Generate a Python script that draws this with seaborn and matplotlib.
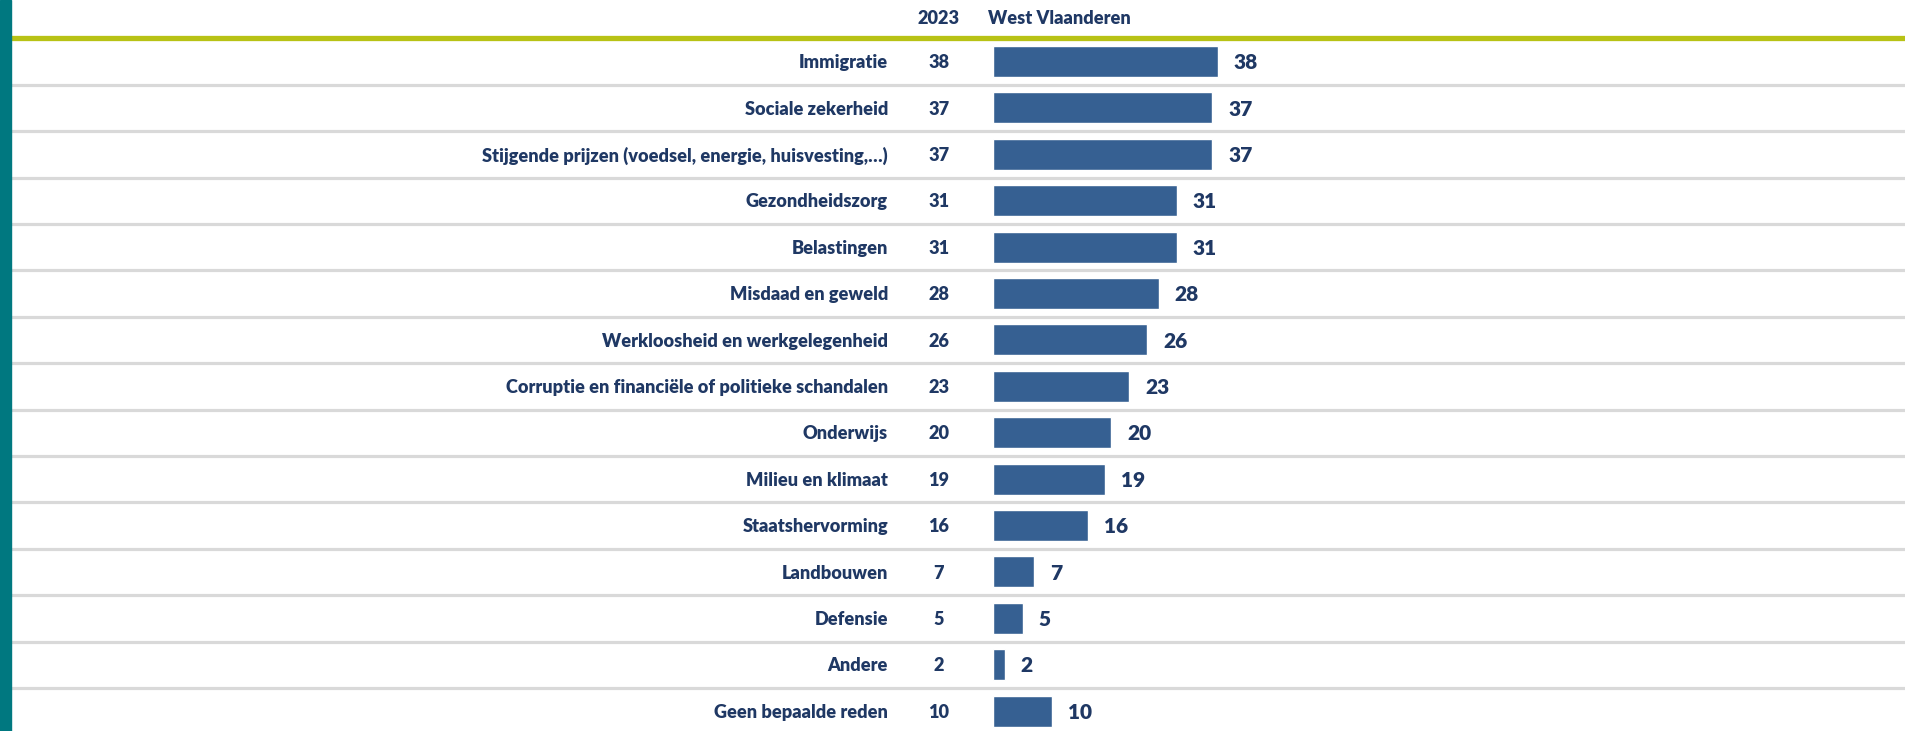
import numpy as np
import pandas as pd
import matplotlib
matplotlib.use("Agg")
import matplotlib.pyplot as plt
import seaborn as sns

categories = [
    "Immigratie",
    "Sociale zekerheid",
    "Stijgende prijzen (voedsel, energie, huisvesting,…)",
    "Gezondheidszorg",
    "Belastingen",
    "Misdaad en geweld",
    "Werkloosheid en werkgelegenheid",
    "Corruptie en financiële of politieke schandalen",
    "Onderwijs",
    "Milieu en klimaat",
    "Staatshervorming",
    "Landbouwen",
    "Defensie",
    "Andere",
    "Geen bepaalde reden",
]
values_2023 = [38, 37, 37, 31, 31, 28, 26, 23, 20, 19, 16, 7, 5, 2, 10]
values_wvl = [38, 37, 37, 31, 31, 28, 26, 23, 20, 19, 16, 7, 5, 2, 10]

col_header_year = "2023"
col_header_region = "West Vlaanderen"

BAR = "#366092"
TEXT = "#1F3864"
OLIVE = "#B8C215"
TEAL = "#007880"
GRID = "#D9D9D9"

W, H = 1905, 731
px_per_unit = 5.92
bar_x0 = 993
row0, row_h = 61.5, 46.4

sns.set_theme(style="white")
plt.rcParams["font.family"] = ["Lato", "DejaVu Sans"]

df = pd.DataFrame({"cat": categories, "val": values_wvl})

fig = plt.figure(figsize=(W / 100, H / 100), dpi=100)
ax = fig.add_axes([0, 0, 1, 1])

sns.barplot(data=df, y="cat", x="val", orient="h", color=BAR,
            saturation=1, width=31 / row_h, ax=ax, zorder=3)

ax.set_xlim(-bar_x0 / px_per_unit, (W - bar_x0) / px_per_unit)
ax.set_ylim((H - row0) / row_h, -row0 / row_h)
ax.axis("off")

def px2x(p):
    return (p - bar_x0) / px_per_unit

def px2y(p):
    return (p - row0) / row_h

xmin_frac = 11 / W
for i in range(len(categories) - 1):
    ax.axhline(i + 0.5, xmin=xmin_frac, xmax=1, color=GRID, lw=2.3, zorder=1)
ax.axhline(-0.5, xmin=xmin_frac, xmax=1, color=OLIVE, lw=3.8, zorder=2)

dy = 1.2 / row_h  # small nudge so text sits like the original
for i, (cat, v23, v) in enumerate(zip(categories, values_2023, values_wvl)):
    ax.text(px2x(888), i + dy, cat, ha="right", va="center", fontsize=13.1,
            fontweight="heavy", color=TEXT)
    ax.text(px2x(939), i + dy, str(v23), ha="center", va="center", fontsize=13.1,
            fontweight="heavy", color=TEXT)
    ax.text(v + 16 / px_per_unit, i + dy, str(v), ha="left", va="center",
            fontsize=15, fontweight="heavy", color=TEXT)

ax.text(px2x(939), px2y(18), col_header_year, ha="center", va="center",
        fontsize=13.1, fontweight="heavy", color=TEXT)
ax.text(px2x(988), px2y(18), col_header_region, ha="left", va="center",
        fontsize=13.1, fontweight="heavy", color=TEXT)

# teal strip on the left edge
fig.patches.append(plt.Rectangle((0, 0), 11 / W, 1, transform=fig.transFigure,
                                 color=TEAL, zorder=5))

fig.savefig("out.png", dpi=100)
